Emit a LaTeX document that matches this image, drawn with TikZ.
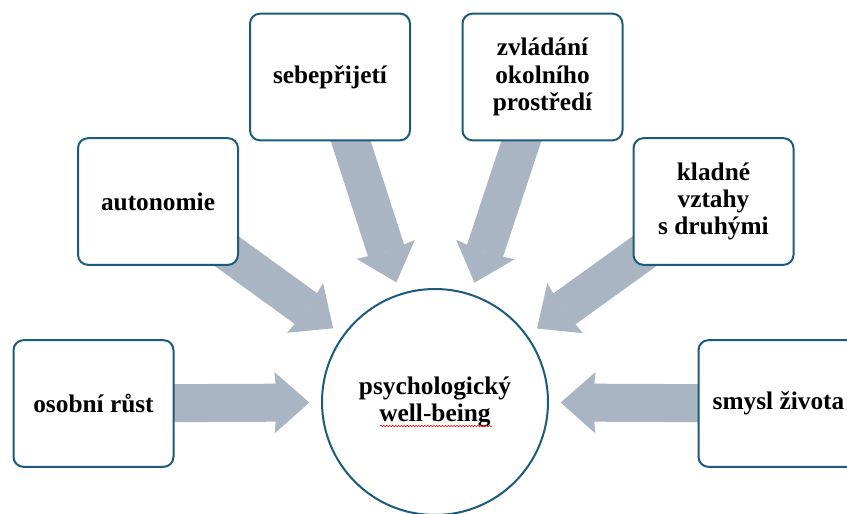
\documentclass[tikz,border=0pt]{standalone}
\usepackage{fontspec}
\setmainfont{Liberation Serif}
\usepackage{tikz}
\usetikzlibrary{arrows.meta}
\usetikzlibrary{calc}
\usetikzlibrary{backgrounds}
\usetikzlibrary{decorations.pathmorphing}
\definecolor{framecol}{RGB}{27,92,124}
\definecolor{flowcol}{RGB}{169,181,194}
\tikzset{
  factor/.style={draw=framecol, line width=1.5pt, fill=white, rounded corners=7.5pt,
    minimum width=120pt, minimum height=95pt, align=center, inner sep=2pt,
    font=\bfseries\fontsize{19}{20.5}\selectfont},
  whole/.style={draw=framecol, line width=1.5pt, fill=white, circle, minimum size=169.5pt,
    align=center, font=\bfseries\fontsize{19}{20.5}\selectfont},
  flow/.style={draw=flowcol, fill=flowcol, line width=28.5pt, shorten >=8.8pt,
    -{Stealth[length=26pt, width=46pt, inset=2pt, line width=0pt]}}
}
\begin{document}
\begin{tikzpicture}[x=0.75pt, y=-0.75pt]
            \clip (0,0) rectangle (847,514);
            \useasboundingbox (0,0) rectangle (847,514);
            \node[whole] (wb) at (435,402) {psychologický\\well-being};
            \node[factor] (growth) at (93.5,403.5) {osobní růst};
            \node[factor] (auto) at (158,201.5) {autonomie};
            \node[factor] (accept) at (330,77) {sebepřijetí};
            \node[factor] (master) at (542.5,77) {zvládání\\okolního\\prostředí};
            \node[factor] (relat) at (713.5,201.5) {kladné\\vztahy\\s~druhými};
            \node[factor] (purpose) at (778.5,403.5) {smysl života};
            \begin{scope}[on background layer]
                \draw[flow] (growth.center) -- (wb);
                \draw[flow] (auto.center) -- (wb);
                \draw[flow] (accept.center) -- (wb);
                \draw[flow] (master.center) -- (wb);
                \draw[flow] (relat.center) -- (wb);
                \draw[flow] (purpose.center) -- (wb);
            \end{scope}
            \draw[red, line width=0.4pt, decorate, decoration={snake, amplitude=0.6pt, segment length=2.2pt}]
                ($(wb.center)+(-55,24)$) -- ($(wb.center)+(57,24)$);
        \end{tikzpicture}
\end{document}
